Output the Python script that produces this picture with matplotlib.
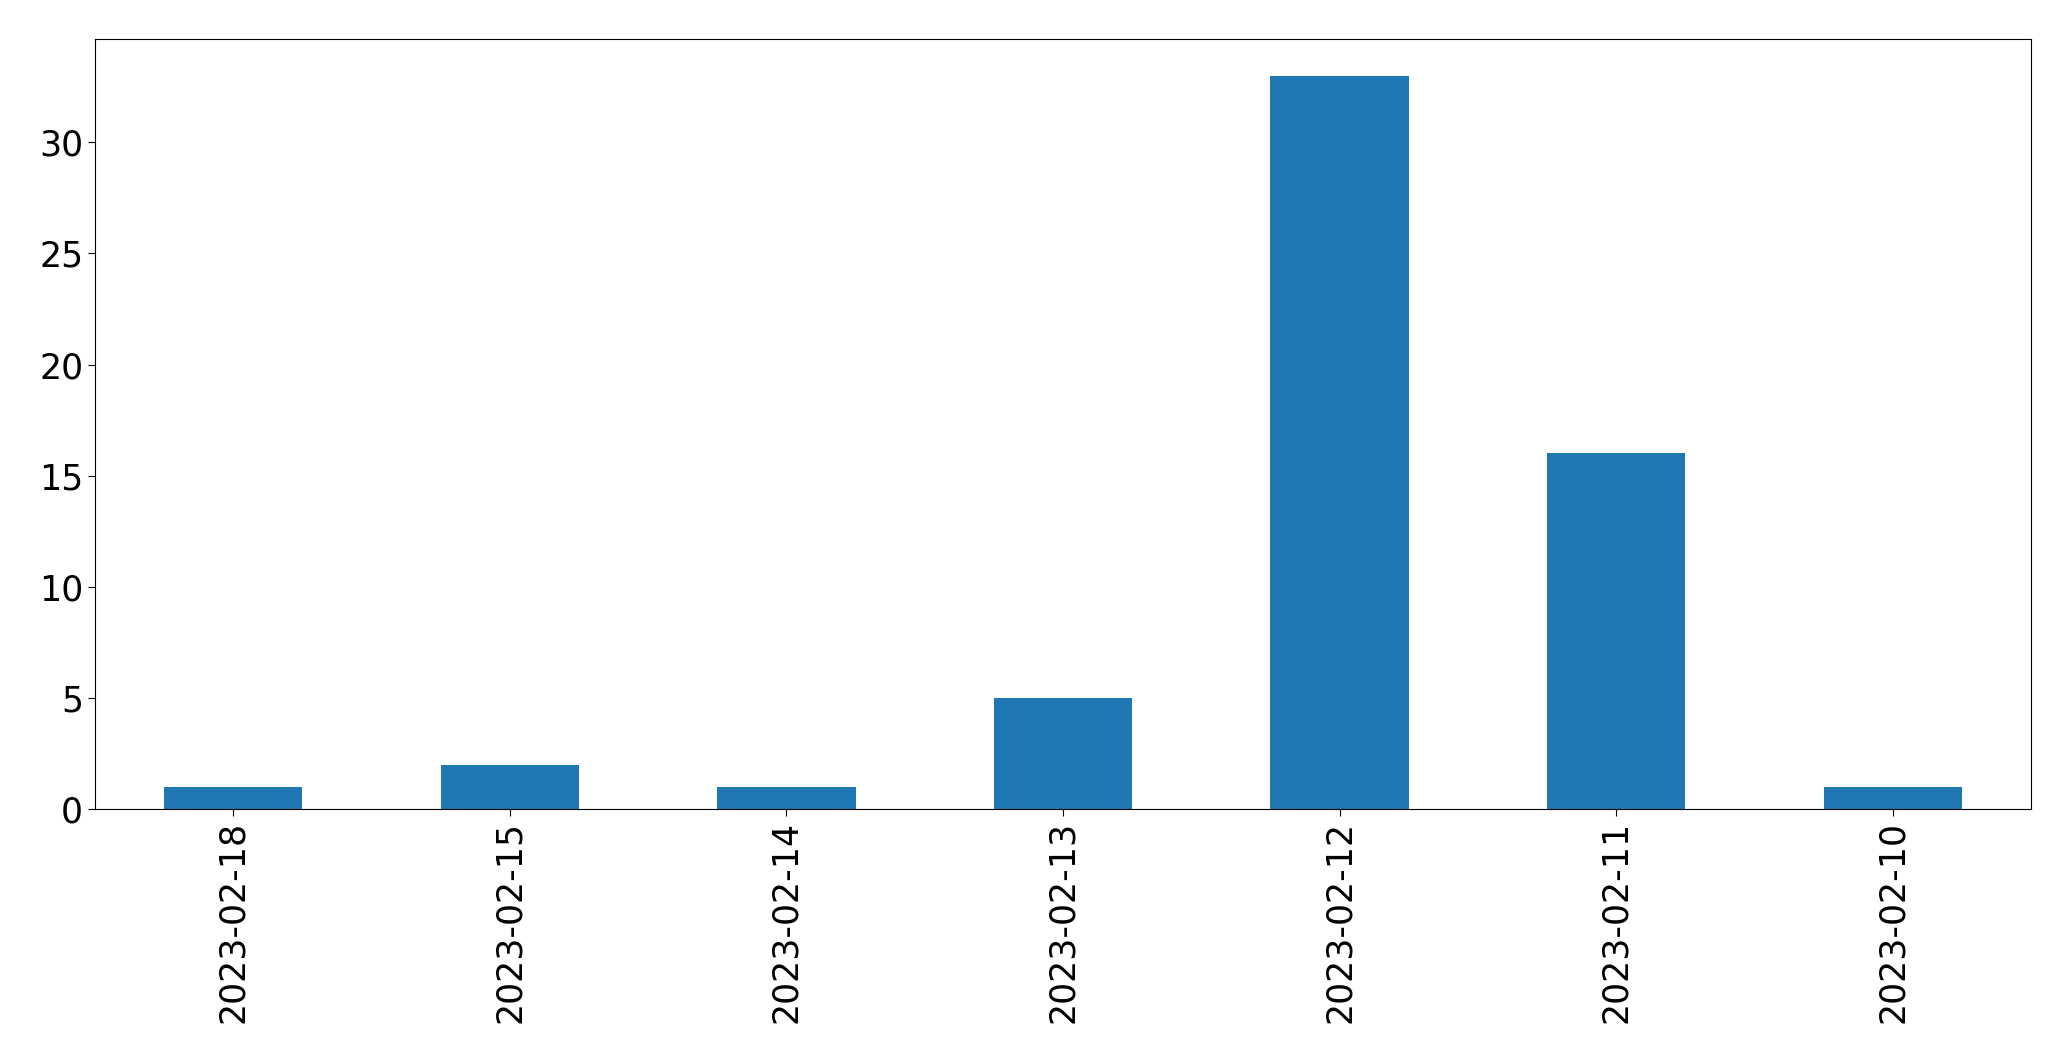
import pandas as pd
import matplotlib
matplotlib.use("Agg")
import matplotlib.pyplot as plt

dates = ["2023-02-18", "2023-02-15", "2023-02-14", "2023-02-13",
         "2023-02-12", "2023-02-11", "2023-02-10"]
counts = [1, 2, 1, 5, 33, 16, 1]

plt.rcParams['font.size'] = 25

series = pd.Series(counts, index=dates)

fig = plt.figure(figsize=(20.71, 10.61), dpi=100)
ax = fig.add_axes([95 / 2071, 1 - 809 / 1061, (2031 - 95) / 2071, (809 - 39) / 1061])
series.plot(kind="bar", ax=ax, color="#1f77b4")
ax.tick_params(length=5)

fig.savefig("out.png", dpi=100)
